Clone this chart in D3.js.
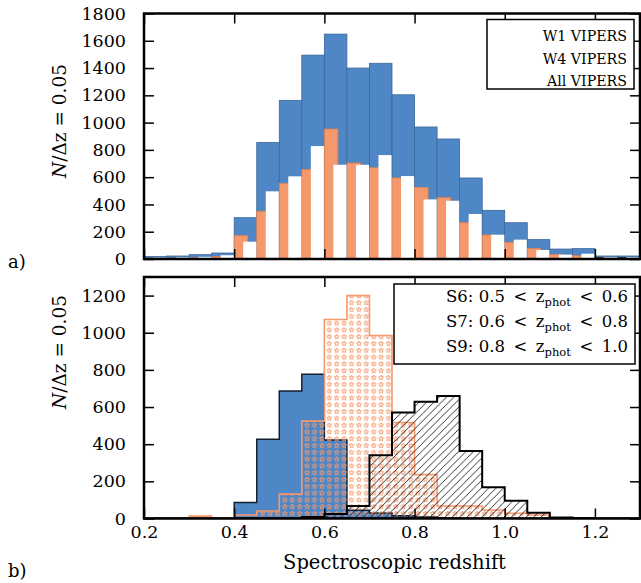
<!DOCTYPE html>
<html>
<head>
<meta charset="utf-8">
<script src="https://cdn.jsdelivr.net/npm/d3@7"></script>
<style>
body { margin: 0; background: #fff; }
text { font-family: "DejaVu Serif", serif; fill: #000; }
</style>
</head>
<body>
<div id="chart"></div>
<script>
// left edges of the redshift bins (width 0.05)
var binEdges = [0.20, 0.25, 0.30, 0.35, 0.40, 0.45, 0.50, 0.55, 0.60, 0.65, 0.70,
                0.75, 0.80, 0.85, 0.90, 0.95, 1.00, 1.05, 1.10, 1.15, 1.20, 1.25];
var binWidth = 0.05;

// panel a) counts per bin
var allVipers = [18, 22, 32, 44, 303, 855, 1163, 1495, 1649, 1400, 1435,
                 1204, 968, 880, 594, 357, 266, 142, 73, 76, 22, 22];
var w1Vipers = [5, 6, 10, 17, 171, 350, 555, 657, 953, 704, 669,
                594, 525, 450, 266, 176, 122, 78, 32, 24, 10, 10];
var w4Vipers = [10, 12, 16, 28, 127, 496, 606, 828, 691, 691, 762,
                608, 437, 427, 330, 178, 142, 66, 32, 39, 12, 12];
var baseCounts = [6, 6, 6, 6, 6, 6, 6, 6, 6, 6, 6,
                  6, 6, 6, 6, 6, 6, 6, 6, 6, 12, 12];

// panel b) counts per bin
var s6 = [0, 0, 0, 0, 86, 427, 687, 777, 422, 45, 30,
          15, 8, 4, 0, 0, 0, 0, 0, 0, 0, 0];
var s7 = [0, 0, 13, 0, 19, 40, 131, 524, 1071, 1200, 985,
          517, 236, 67, 67, 46, 28, 19, 0, 0, 0, 0];
var s9 = [0, 0, 0, 0, 0, 0, 0, 8, 24, 67, 341,
          571, 628, 660, 363, 168, 96, 31, 5, 3, 0, 0];

var xTicks = [0.2, 0.4, 0.6, 0.8, 1.0, 1.2];
var topTicks = [0, 200, 400, 600, 800, 1000, 1200, 1400, 1600, 1800];
var botTicks = [0, 200, 400, 600, 800, 1000, 1200];

var legendTop = ["W1 VIPERS", "W4 VIPERS", "All VIPERS"];
var legendBotNames = ["S6", "S7", "S9"];
var legendBotLo = ["0.5", "0.6", "0.8"];
var legendBotHi = ["0.6", "0.8", "1.0"];

var blue = "#4f87c6", blueEdge = "#3a6798";
var orange = "#f5986b", orangeEdge = "#e0804f";

var svgWidth = 641, svgHeight = 583;
var left = 144, right = 640;
var aTop = 13.5, aBottom = 259;
var bTop = 277, bBottom = 518.5;

var svg = d3.select("#chart").append("svg")
  .attr("width", svgWidth)
  .attr("height", svgHeight);

var x = d3.scaleLinear().domain([0.2, 1.3]).range([left, right]);
var yA = d3.scaleLinear().domain([0, 1800]).range([aBottom, aTop]);
var yB = d3.scaleLinear().domain([0, 1300]).range([bBottom, bTop]);

var defs = svg.append("defs");
defs.append("clipPath").attr("id", "clipA").append("rect")
  .attr("x", left).attr("y", aTop).attr("width", right - left).attr("height", aBottom - aTop);
defs.append("clipPath").attr("id", "clipB").append("rect")
  .attr("x", left).attr("y", bTop).attr("width", right - left).attr("height", bBottom - bTop);

// star hatch
var starPat = defs.append("pattern").attr("id", "stars")
  .attr("patternUnits", "userSpaceOnUse").attr("width", 7.4).attr("height", 6.8);
var starPts = [];
for (var k = 0; k < 10; k++) {
  var r = k % 2 === 0 ? 2.6 : 1.1;
  var a = -Math.PI / 2 + k * Math.PI / 5;
  starPts.push([3.7 + r * Math.cos(a), 3.6 + r * Math.sin(a)]);
}
starPat.append("path")
  .attr("d", "M" + starPts.join("L") + "Z")
  .attr("fill", "none").attr("stroke", orange).attr("stroke-width", 0.9);

// diagonal hatch
var hatch = defs.append("pattern").attr("id", "hatch")
  .attr("patternUnits", "userSpaceOnUse").attr("width", 7.4).attr("height", 7.4);
hatch.append("path")
  .attr("d", "M0,7.4L7.4,0M-2,2L2,-2M5.4,9.4L9.4,5.4")
  .attr("stroke", "#000").attr("stroke-width", 0.8);

// ---- panel a) bars
var gA = svg.append("g").attr("clip-path", "url(#clipA)");

function bars(values, fill, stroke, f0, f1) {
  gA.append("g").selectAll("rect")
    .data(values)
    .enter()
    .append("rect")
    .attr("x", (d, i) => x(binEdges[i]) + f0 * (x(binEdges[i] + binWidth) - x(binEdges[i])))
    .attr("width", (d, i) => (f1 - f0) * (x(binEdges[i] + binWidth) - x(binEdges[i])))
    .attr("y", d => yA(d))
    .attr("height", d => yA(0) - yA(d))
    .attr("fill", fill)
    .attr("stroke", stroke)
    .attr("stroke-width", stroke === "none" ? 0 : 0.8);
}
bars(allVipers, blue, blueEdge, 0, 1);
bars(w1Vipers, orange, orangeEdge, 0, 0.6);
bars(w4Vipers, "#fff", "none", 0.4, 0.98);
bars(baseCounts, "#000", "none", 0, 0.38);

// ---- panel b) step histograms
var gB = svg.append("g").attr("clip-path", "url(#clipB)");

function stepPoints(values) {
  var pts = [[binEdges[0], 0]];
  values.forEach(function(v, i) {
    pts.push([binEdges[i], v]);
    pts.push([binEdges[i] + binWidth, v]);
  });
  pts.push([binEdges[binEdges.length - 1] + binWidth, 0]);
  return pts;
}
var step = d3.line().x(d => x(d[0])).y(d => yB(d[1]));

gB.append("path").attr("d", step(stepPoints(s6)) + "Z")
  .attr("fill", blue).attr("stroke", "#14202e").attr("stroke-width", 1.5);
gB.append("path").attr("d", step(stepPoints(s7)) + "Z")
  .attr("fill", "url(#stars)").attr("stroke", orange).attr("stroke-width", 1.6);
gB.append("path").attr("d", step(stepPoints(s9)) + "Z")
  .attr("fill", "url(#hatch)").attr("stroke", "#000").attr("stroke-width", 2);

// ---- axes
function axes(y, ticks, top, bottom, showX) {
  var l = svg.append("g").attr("transform", `translate(${left},0)`)
    .call(d3.axisLeft(y).tickValues(ticks).tickSizeInner(-10).tickSizeOuter(0).tickPadding(18)
      .tickFormat(d3.format("d")));
  var r = svg.append("g").attr("transform", `translate(${right},0)`)
    .call(d3.axisRight(y).tickValues(ticks).tickSizeInner(-10).tickSizeOuter(0).tickFormat(""));
  var t = svg.append("g").attr("transform", `translate(0,${top})`)
    .call(d3.axisTop(x).tickValues(xTicks).tickSizeInner(-10).tickSizeOuter(0).tickFormat(""));
  var b = svg.append("g").attr("transform", `translate(0,${bottom})`)
    .call(d3.axisBottom(x).tickValues(xTicks).tickSizeInner(-10).tickSizeOuter(0).tickPadding(7)
      .tickFormat(showX ? d3.format(".1f") : ""));
  [l, r, t, b].forEach(function(g) {
    g.select(".domain").remove();
    g.attr("font-family", "DejaVu Serif").attr("font-size", 17.5);
    g.selectAll("line").attr("stroke", "#000").attr("stroke-width", 1.5);
  });
  svg.append("rect")
    .attr("x", left).attr("y", top)
    .attr("width", right - left).attr("height", bottom - top)
    .attr("fill", "none").attr("stroke", "#000").attr("stroke-width", 2.5);
}
axes(yA, topTicks, aTop, aBottom, false);
axes(yB, botTicks, bTop, bBottom, true);

// ---- legends
svg.append("rect").attr("x", 487).attr("y", 19.5).attr("width", 147).attr("height", 69.5)
  .attr("fill", "#fff").attr("stroke", "#000").attr("stroke-width", 1.5);
svg.append("g").selectAll("text")
  .data(legendTop)
  .enter()
  .append("text")
  .attr("x", 627)
  .attr("y", (d, i) => 41 + i * 22.5)
  .attr("text-anchor", "end")
  .attr("font-size", 14.2)
  .text(d => d);

svg.append("rect").attr("x", 394).attr("y", 284).attr("width", 241).attr("height", 80)
  .attr("fill", "#fff").attr("stroke", "#000").attr("stroke-width", 1.5);
legendBotNames.forEach(function(name, i) {
  var t = svg.append("text")
    .attr("x", 628)
    .attr("y", 302 + i * 25)
    .attr("text-anchor", "end")
    .attr("font-size", 16.5)
    .attr("xml:space", "preserve");
  t.append("tspan").text(name + ": " + legendBotLo[i] + " \u2009< \u2009z");
  t.append("tspan").attr("font-size", 11.5).attr("dy", 4).text("phot");
  t.append("tspan").attr("dy", -4).text(" \u2009< \u2009" + legendBotHi[i]);
});

// ---- axis labels
[121, 352].forEach(function(cy) {
  var t = svg.append("text")
    .attr("transform", `translate(66,${cy}) rotate(-90)`)
    .attr("text-anchor", "middle")
    .attr("font-size", 18.5);
  t.append("tspan").attr("font-style", "italic").text("N");
  t.append("tspan").text("/\u0394z = 0.05");
});

svg.append("text")
  .attr("x", 394.5).attr("y", 569)
  .attr("text-anchor", "middle")
  .attr("font-size", 19.5)
  .text("Spectroscopic redshift");

svg.append("text").attr("x", 8).attr("y", 268).attr("font-size", 18).text("a)");
svg.append("text").attr("x", 8).attr("y", 577).attr("font-size", 18).text("b)");
</script>
</body>
</html>
